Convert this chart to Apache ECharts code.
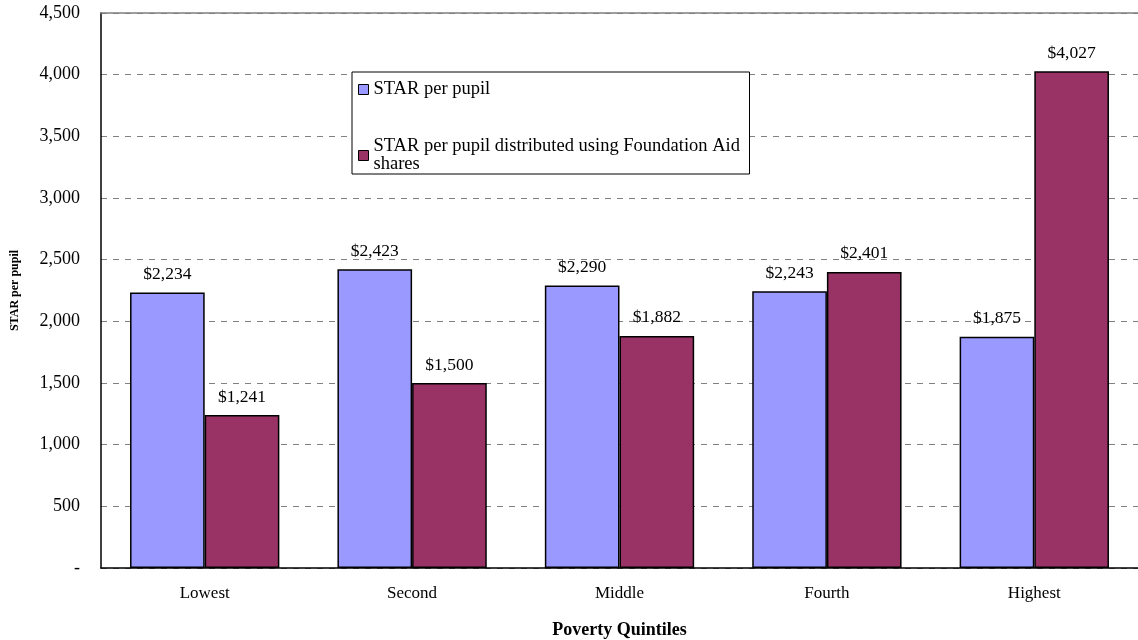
<!DOCTYPE html>
<html>
<head>
<meta charset="utf-8">
<script src="https://cdn.jsdelivr.net/npm/echarts@6/dist/echarts.min.js"></script>
<style>
  html, body { margin: 0; padding: 0; background: #fff; }
  #chart { width: 1138px; height: 640px; }
</style>
</head>
<body>
<div id="chart"></div>
<script>
var quintiles = ['Lowest', 'Second', 'Middle', 'Fourth', 'Highest'];
var starPerPupil = [2234, 2423, 2290, 2243, 1875];
var starFoundationAid = [1241, 1500, 1882, 2401, 4027];
var seriesNames = ['STAR per pupil', 'STAR per pupil distributed using Foundation Aid shares'];

var font = '"Liberation Serif", "Times New Roman", serif';

function money(v) {
  return '$' + v.toLocaleString('en-US');
}

var myChart = echarts.init(document.getElementById('chart'));

var option = {
  backgroundColor: '#fff',
  textStyle: { fontFamily: font, color: '#000' },
  animation: false,
  grid: {
    left: 101,
    right: 0,
    top: 13,
    bottom: 72,
    outerBoundsMode: 'none',
    containLabel: false
  },
  legend: {
    orient: 'vertical',
    left: 352,
    top: 72,
    padding: [8, 2, 0, 6],
    itemGap: 38,
    itemWidth: 10,
    itemHeight: 10,
    itemStyle: { borderColor: '#000', borderWidth: 1 },
    icon: 'rect',
    borderColor: '#000',
    borderWidth: 1,
    backgroundColor: '#fff',
    textStyle: { fontFamily: font, fontSize: 18.5, color: '#000', lineHeight: 18, width: 374 },
    formatter: function (name) {
      if (name === seriesNames[1]) {
        return 'STAR per pupil distributed using Foundation Aid\nshares';
      }
      return name;
    },
    data: seriesNames
  },
  xAxis: [{
    type: 'category',
    data: quintiles,
    name: 'Poverty Quintiles',
    nameLocation: 'middle',
    nameGap: 53,
    nameTextStyle: { fontFamily: font, fontSize: 18, fontWeight: 'bold', color: '#000' },
    axisTick: { show: false },
    axisLine: { lineStyle: { color: '#000', width: 1.5 } },
    axisLabel: { fontFamily: font, fontSize: 17, color: '#000', margin: 17 }
  }, {
    type: 'category',
    position: 'top',
    data: quintiles,
    axisTick: { show: false },
    axisLabel: { show: false },
    axisLine: { lineStyle: { color: '#808080', width: 1.5 } }
  }],
  yAxis: {
    type: 'value',
    min: 0,
    max: 4500,
    interval: 500,
    name: 'STAR per pupil',
    nameLocation: 'middle',
    nameGap: 80,
    nameTextStyle: { fontFamily: font, fontSize: 12, fontWeight: 'bold', color: '#000' },
    axisLine: { show: true, lineStyle: { color: '#000', width: 1.5 } },
    axisTick: { show: false },
    axisLabel: {
      fontFamily: font,
      fontSize: 18,
      color: '#000',
      margin: 21,
      formatter: function (v) {
        return v === 0 ? '-' : v.toLocaleString('en-US');
      }
    },
    splitLine: {
      show: true,
      lineStyle: { color: '#808080', type: [6, 6], width: 1 }
    }
  },
  series: [{
    name: seriesNames[0],
    type: 'bar',
    data: starPerPupil,
    barGap: '0%',
    barCategoryGap: '28%',
    itemStyle: { color: '#9999ff', borderColor: '#000', borderWidth: 1.5 },
    label: {
      show: true,
      position: 'top',
      distance: 9,
      fontFamily: font,
      fontSize: 17.5,
      color: '#000',
      formatter: function (p) { return money(p.value); }
    }
  }, {
    name: seriesNames[1],
    type: 'bar',
    data: starFoundationAid,
    barGap: '0%',
    barCategoryGap: '28%',
    itemStyle: { color: '#993366', borderColor: '#000', borderWidth: 1.5 },
    label: {
      show: true,
      position: 'top',
      distance: 9,
      fontFamily: font,
      fontSize: 17.5,
      color: '#000',
      formatter: function (p) { return money(p.value); }
    }
  }]
};

myChart.setOption(option);
window.onresize = myChart.resize;
</script>
</body>
</html>
